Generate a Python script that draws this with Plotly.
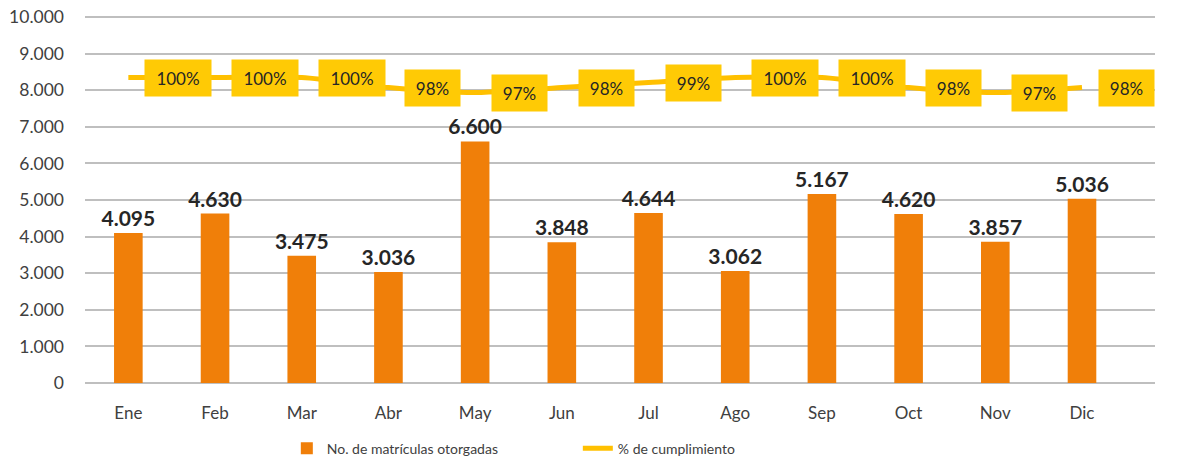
import plotly.graph_objects as go

# datos mensuales
months = ["Ene", "Feb", "Mar", "Abr", "May", "Jun", "Jul", "Ago", "Sep", "Oct", "Nov", "Dic"]
matriculas = [4095, 4630, 3475, 3036, 6600, 3848, 4644, 3062, 5167, 4620, 3857, 5036]
cumplimiento = [100, 100, 100, 98, 97, 98, 99, 100, 100, 98, 97, 98]

FONT = "Lato"
ORANGE = "#F07F09"
YELLOW = "#FFC000"
BOX = "#FFCA05"

fig = go.Figure()

# barras
fig.add_trace(go.Bar(
    x=months, y=matriculas, name="No. de matrículas otorgadas",
    marker=dict(color=ORANGE, line=dict(width=0)),
    texttemplate="%{y:,}", textposition="outside", constraintext="none",
    textfont=dict(family=FONT, size=21, color="#262626", weight="bold"),
    cliponaxis=False,
))

# linea de cumplimiento (eje secundario oculto)
fig.add_trace(go.Scatter(
    x=months, y=cumplimiento, name="% de cumplimiento", yaxis="y2",
    mode="lines", line=dict(color=YELLOW, width=5, shape="spline", smoothing=0.8),
))

for m, p in zip(months, cumplimiento):
    txt = f"{p}%"
    fig.add_annotation(
        x=m, y=p, xref="x", yref="y2", text=txt, showarrow=False,
        xanchor="left", yanchor="middle", xshift=16,
        bgcolor=BOX, borderpad=5, width=56 if len(txt) > 3 else 45, height=26,
        font=dict(family=FONT, size=17, color="#262626"),
    )

# la pagina tiene 8px de margen, por eso 1174x453
# rango un poco mayor a 10000 para que se vea la linea superior
fig.update_layout(
    width=1174, height=453,
    margin=dict(l=77, r=27, t=7, b=78, autoexpand=False),
    plot_bgcolor="white", paper_bgcolor="white",
    separators=",.",
    font=dict(family=FONT, size=16, color="#404040"),
    bargap=0.67,
    showlegend=True,
    legend=dict(orientation="h", xref="container", x=0.2375, xanchor="left",
                yref="container", y=0.027, yanchor="middle",
                font=dict(family=FONT, size=14, color="#404040"), entrywidth=246),
    xaxis=dict(showgrid=False, ticks="", ticklabelstandoff=18, automargin=False,
               tickfont=dict(family=FONT, size=17, color="#404040")),
    yaxis=dict(range=[0, 10054], dtick=1000, tickformat=",", showgrid=True,
               gridcolor="#BFBFBF", gridwidth=1.5, zeroline=True, zerolinecolor="#BFBFBF",
               zerolinewidth=1.5, ticklabelstandoff=20, automargin=False,
               ticklabeloverflow="allow",
               tickfont=dict(family=FONT, size=17.5, color="#404040")),
    yaxis2=dict(overlaying="y", range=[38.8, 112.55], visible=False),
)

fig.write_html("out.html")
